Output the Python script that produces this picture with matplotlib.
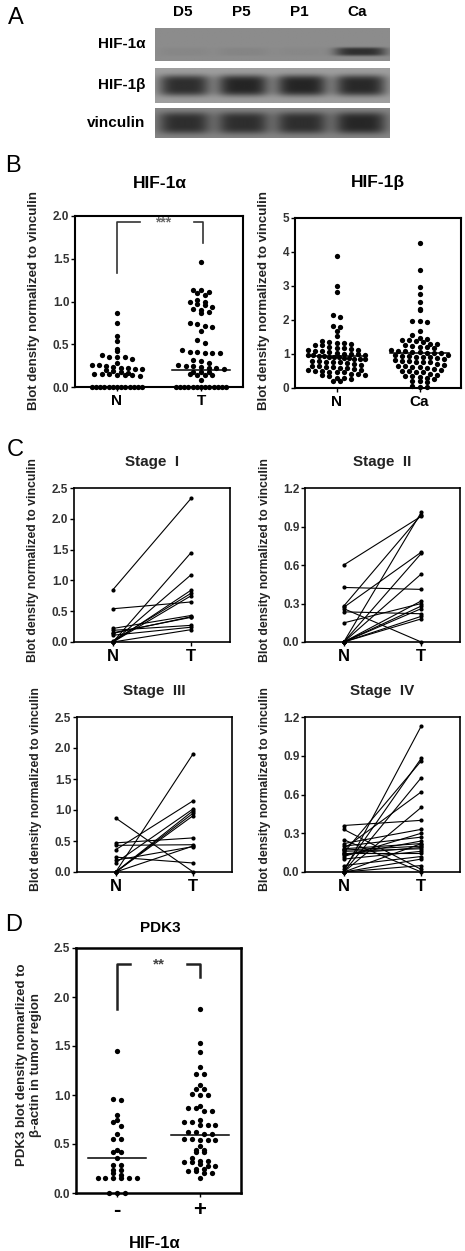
import numpy as np
import matplotlib
matplotlib.use("Agg")
import matplotlib.pyplot as plt

plt.rcParams['font.family'] = ['Liberation Sans', 'DejaVu Sans']
plt.rcParams['font.weight'] = 'bold'

# ---------------- data ----------------
lanes = ['D5', 'P5', 'P1', 'Ca']
blot_rows = ['HIF-1α', 'HIF-1β', 'vinculin']
band_hif1a = [0.05, 0.07, 0.04, 0.85]
band_hif1b = [0.88, 0.95, 0.95, 0.92]
band_vinc = [0.85, 0.85, 0.85, 0.92]

hif1a_n = [0.87, 0.75, 0.60, 0.54, 0.45, 0.42, 0.37, 0.35, 0.35, 0.35, 0.33,
           0.28, 0.26, 0.26, 0.25, 0.23, 0.22, 0.22, 0.21, 0.21, 0.20, 0.19,
           0.18, 0.16, 0.15, 0.15, 0.15, 0.14, 0.14, 0.14, 0.13,
           0, 0, 0, 0, 0, 0, 0, 0, 0, 0, 0, 0, 0]
hif1a_t = [1.46, 1.14, 1.13, 1.11, 1.10, 1.08, 1.02, 1.00, 0.99, 0.97, 0.96,
           0.94, 0.91, 0.90, 0.88, 0.86, 0.75, 0.74, 0.71, 0.70, 0.65, 0.55,
           0.52, 0.43, 0.41, 0.41, 0.40, 0.40, 0.40, 0.32, 0.30, 0.28, 0.26,
           0.24, 0.24, 0.23, 0.22, 0.22, 0.21, 0.18, 0.18, 0.17, 0.15, 0.14,
           0.14, 0.14, 0.08,
           0, 0, 0, 0, 0, 0, 0, 0, 0, 0, 0, 0, 0]
hif1a_median = [0.0, 0.20]

hif1b_n = [3.87, 3.00, 2.82, 2.15, 2.10, 1.81, 1.80, 1.67, 1.52,
           1.38, 1.36, 1.33, 1.31, 1.30, 1.27, 1.25,
           1.20, 1.19, 1.17, 1.15, 1.13, 1.12, 1.10, 1.08,
           1.05, 1.03, 1.01, 1.00, 0.99, 0.98, 0.97, 0.96, 0.95,
           0.93, 0.92, 0.91, 0.90, 0.89, 0.88, 0.86, 0.85, 0.84,
           0.80, 0.79, 0.77, 0.76, 0.75, 0.73, 0.72,
           0.68, 0.66, 0.65, 0.63, 0.62, 0.60, 0.58,
           0.55, 0.53, 0.52, 0.50, 0.49, 0.48, 0.47, 0.46,
           0.42, 0.40, 0.39, 0.37, 0.35,
           0.30, 0.28, 0.26, 0.22, 0.20]
hif1b_ca = [4.27, 3.46, 2.97, 2.75, 2.53, 2.33, 2.30, 1.98, 1.96, 1.95, 1.67, 1.57,
            1.48, 1.45, 1.42, 1.40, 1.38, 1.36,
            1.30, 1.28, 1.25, 1.23, 1.21, 1.20, 1.18,
            1.12, 1.10, 1.08, 1.06, 1.05, 1.04, 1.03, 1.02,
            0.98, 0.96, 0.95, 0.93, 0.92, 0.91, 0.90, 0.88,
            0.84, 0.82, 0.80, 0.78, 0.77, 0.76, 0.75,
            0.70, 0.68, 0.66, 0.65, 0.63, 0.62, 0.60,
            0.55, 0.53, 0.51, 0.50, 0.48, 0.46,
            0.40, 0.38, 0.36, 0.35, 0.33,
            0.28, 0.25, 0.22, 0.20, 0.18,
            0.05, 0.04, 0.03]
hif1b_median = [0.95, 1.02]

# paired (N, T) values per stage
stage1_n = [0.85, 0.54, 0.00, 0.00, 0.00, 0.00, 0.02, 0.22, 0.19, 0.14, 0.11, 0.00, 0.15]
stage1_t = [2.33, 0.65, 1.45, 1.09, 0.84, 0.75, 0.79, 0.43, 0.27, 0.41, 0.24, 0.20, 0.40]
stage2_n = [0.60, 0.425, 0.28, 0.27, 0.26, 0.235, 0.149, 0.00, 0.00, 0.00, 0.00, 0.00, 0.00, 0.00, 0.00]
stage2_t = [0.98, 0.41, 0.99, 0.70, 0.00, 0.22, 0.30, 1.01, 0.69, 0.53, 0.32, 0.28, 0.26, 0.20, 0.18]
stage3_n = [0.87, 0.00, 0.47, 0.43, 0.36, 0.24, 0.19, 0.15, 0.00, 0.00, 0.00, 0.00]
stage3_t = [0.00, 1.91, 0.55, 0.44, 1.15, 0.145, 0.41, 1.02, 0.99, 0.95, 0.91, 0.42]
stage4_n = [0.00, 0.02, 0.15, 0.00, 0.18, 0.00, 0.36, 0.33, 0.22, 0.20, 0.18, 0.17,
            0.16, 0.15, 0.14, 0.13, 0.12, 0.10, 0.05, 0.00, 0.00, 0.25, 0.00]
stage4_t = [1.13, 0.88, 0.86, 0.73, 0.62, 0.50, 0.40, 0.02, 0.33, 0.27, 0.22, 0.20,
            0.18, 0.15, 0.19, 0.24, 0.30, 0.16, 0.12, 0.10, 0.05, 0.00, 0.22]

pdk3_neg = [1.45, 0.96, 0.95, 0.80, 0.75, 0.72, 0.68, 0.60, 0.55, 0.55, 0.44,
            0.42, 0.42, 0.36, 0.29, 0.29, 0.23, 0.23, 0.20, 0.18,
            0.15, 0.15, 0.15, 0.15, 0.15, 0.15, 0.0, 0.0, 0.0]
pdk3_pos = [1.88, 1.53, 1.44, 1.29, 1.21, 1.21, 1.10, 1.06, 1.06, 1.01, 1.00,
            1.00, 0.89, 0.87, 0.87, 0.84, 0.84, 0.75, 0.72, 0.72, 0.69, 0.69,
            0.69, 0.62, 0.62, 0.60, 0.60, 0.55, 0.55, 0.54, 0.54, 0.54, 0.48,
            0.44, 0.44, 0.42, 0.42, 0.36, 0.33, 0.33, 0.32, 0.32, 0.30, 0.28,
            0.28, 0.24, 0.24, 0.22, 0.22, 0.20, 0.20, 0.15]
pdk3_median = [0.36, 0.59]

# ---------------- layout helpers ----------------
W, H = 465, 1251
fig = plt.figure(figsize=(W / 100, H / 100), dpi=100)


def px_axes(x0, y0, x1, y1):
    return fig.add_axes([x0 / W, 1 - y1 / H, (x1 - x0) / W, (y1 - y0) / H])


def ftext(x, y, s, **kw):
    kw.setdefault('ha', 'center')
    kw.setdefault('va', 'center')
    return fig.text(x / W, 1 - y / H, s, **kw)


def style(ax, lw=1.5, xfs=11):
    for s in ax.spines.values():
        s.set_linewidth(lw)
    ax.tick_params(axis='y', direction='out', length=3, width=1, labelsize=8.5,
                   pad=1, labelcolor='#333333')
    ax.tick_params(axis='x', direction='out', length=3, width=1, labelsize=xfs,
                   pad=2)


def swarm(vals, center, row_h, dx, half):
    vals = np.asarray(vals, float)
    xs = np.full(len(vals), float(center))
    bins = np.round(vals / row_h).astype(int)
    for b in np.unique(bins):
        idx = np.where(bins == b)[0]
        n = len(idx)
        if n < 2:
            continue
        step = min(dx, 2 * half / (n - 1))
        xs[idx] = center + (np.arange(n) - (n - 1) / 2) * step
    return xs


def dot_column(ax, groups, medians, row_h, dx, half, ms=3.8):
    for i, (vals, med) in enumerate(zip(groups, medians)):
        c = i + 1
        ax.plot(swarm(vals, c, row_h, dx, half), vals, 'o', color='black',
                ms=ms, mew=0, clip_on=False)
        ax.plot([c - 0.35, c + 0.35], [med, med], color='black', lw=1.1)
    ax.set_xlim(0.5, 2.5)
    ax.set_xticks([1, 2])


# ---------------- panel letters ----------------
for letter, (x, y) in zip('ABCD', [(16, 18), (13, 166), (15, 450), (14, 925)]):
    ftext(x, y, letter, fontsize=17, fontweight='normal')

# ---------------- A: western blot ----------------
for j, name in enumerate(lanes):
    ftext(183 + j * 58, 12, name, fontsize=11)

strip_px = [(28, 61), (68, 103), (108, 138)]
strip_bg = [0.55, 0.62, 0.52]
band_y = [0.72, 0.5, 0.5]
band_h = [0.13, 0.3, 0.36]
bands = [band_hif1a, band_hif1b, band_vinc]
yy, xx = np.mgrid[0:1:60j, 0.5:4.5:400j]
for (y0, y1), bg, cy, hh, inten, name in zip(strip_px, strip_bg, band_y, band_h, bands, blot_rows):
    ax = px_axes(155, y0, 390, y1)
    img = np.full(xx.shape, bg)
    for k, val in enumerate(inten):
        prof = np.exp(-((xx - (k + 1)) / 0.44) ** 4) * np.exp(-((yy - cy) / hh) ** 4)
        img -= val * (bg - 0.12) * prof
    ax.imshow(img, cmap='gray', vmin=0, vmax=1, aspect='auto',
              extent=(0.5, 4.5, 1, 0), interpolation='bilinear')
    ax.set_xticks([])
    ax.set_yticks([])
    for s in ax.spines.values():
        s.set_visible(False)
    ftext(145, (y0 + y1) / 2, name, fontsize=11, ha='right')

# ---------------- B: HIF-1a / HIF-1b ----------------
ax = px_axes(75, 216, 243, 387)
dot_column(ax, [hif1a_n, hif1a_t], hif1a_median, 0.06, 0.09, 0.30)
ax.set_ylim(0, 2.0)
ax.set_yticks(np.arange(0, 2.01, 0.5))
ax.set_yticklabels(['%.1f' % v for v in np.arange(0, 2.01, 0.5)])
ax.set_xticklabels(['N', 'T'])
ax.plot([1, 1, 1.27], [1.33, 1.93, 1.93], color='#333333', lw=1.2)
ax.plot([1.92, 2.02, 2.02], [1.93, 1.93, 1.69], color='#333333', lw=1.2)
ax.text(1.55, 1.92, '***', ha='center', va='center', fontsize=10, color='#666666')
style(ax)
ftext(160, 183, 'HIF-1α', fontsize=12.5)
ftext(34, 300, 'Blot density normalized to vinculin', fontsize=9.5, rotation=90,
      color='#222222')

ax = px_axes(295, 218, 461, 388)
dot_column(ax, [hif1b_n, hif1b_ca], hif1b_median, 0.15, 0.085, 0.34)
ax.set_ylim(0, 5)
ax.set_yticks(range(6))
ax.set_xticklabels(['N', 'Ca'])
style(ax)
ftext(378, 183, 'HIF-1β', fontsize=12.5)
ftext(264, 300, 'Blot density normalized to vinculin', fontsize=9.5, rotation=90,
      color='#222222')

# ---------------- C: paired stages ----------------
stages = [
    ('Stage  I', stage1_n, stage1_t, (74, 488, 230, 642), 2.5, 0.5, 33),
    ('Stage  II', stage2_n, stage2_t, (305, 488, 460, 642), 1.2, 0.3, 265),
    ('Stage  III', stage3_n, stage3_t, (77, 717, 232, 872), 2.5, 0.5, 36),
    ('Stage  IV', stage4_n, stage4_t, (305, 717, 460, 872), 1.2, 0.3, 265),
]
for title, nv, tv, box, ymax, step, lx in stages:
    ax = px_axes(*box)
    for a, b in zip(nv, tv):
        ax.plot([1, 2], [a, b], '-o', color='black', lw=0.8, ms=3, mew=0,
                clip_on=False)
    ax.set_xlim(0.5, 2.5)
    ax.set_ylim(0, ymax)
    ticks = np.arange(0, ymax + 1e-6, step)
    ax.set_yticks(ticks)
    ax.set_yticklabels(['%.1f' % v for v in ticks])
    ax.set_xticks([1, 2])
    ax.set_xticklabels(['N', 'T'])
    style(ax, lw=1.2, xfs=12)
    x0, y0, x1, y1 = box
    ftext((x0 + x1) / 2, y0 - 26, title, fontsize=11, color='#222222')
    ftext(lx, (y0 + y1) / 2 - 5, 'Blot density normalized to vinculin',
          fontsize=8.8, rotation=90, color='#222222')

# ---------------- D: PDK3 ----------------
ax = px_axes(76, 948, 241, 1193)
dot_column(ax, [pdk3_neg, pdk3_pos], pdk3_median, 0.05, 0.095, 0.36)
ax.set_ylim(0, 2.5)
ticks = np.arange(0, 2.51, 0.5)
ax.set_yticks(ticks)
ax.set_yticklabels(['%.1f' % v for v in ticks])
ax.set_xticklabels(['-', '+'])
ax.plot([1, 1, 1.15], [1.88, 2.34, 2.34], color='#222222', lw=1.8)
ax.plot([1.84, 2.0, 2.0], [2.34, 2.34, 2.20], color='#222222', lw=1.8)
ax.text(1.51, 2.33, '**', ha='center', va='center', fontsize=11, color='#444444')
style(ax, lw=1.8, xfs=16)
ftext(160, 928, 'PDK3', fontsize=11)
ftext(155, 1243, 'HIF-1α', fontsize=12)
ftext(29, 1065, 'PDK3 blot density nomarlized to\nβ-actin in tumor region',
      fontsize=9.5, rotation=90, multialignment='center', color='#222222')

fig.savefig('out.png', dpi=100)
